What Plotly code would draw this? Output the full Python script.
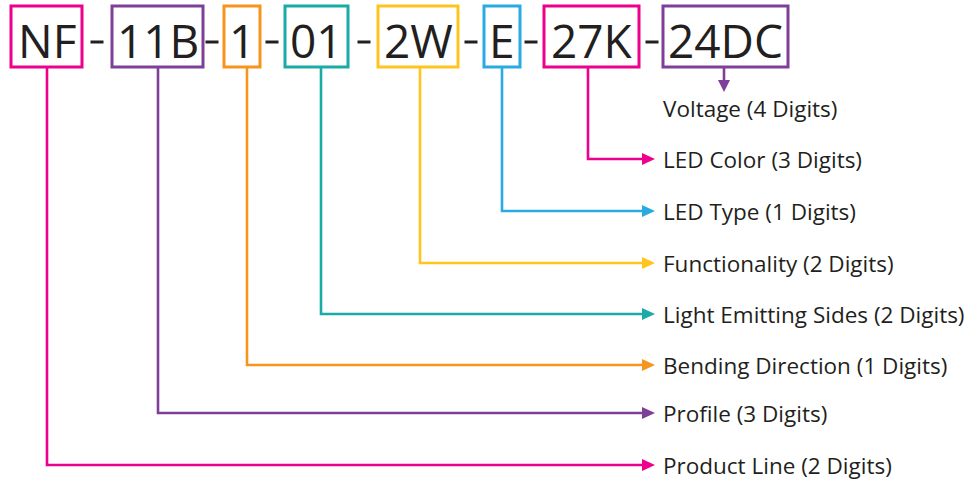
import plotly.graph_objects as go

# ---- data ----
codes = ["NF", "11B", "1", "01", "2W", "E", "27K", "24DC"]
labels = ["Product Line (2 Digits)", "Profile (3 Digits)", "Bending Direction (1 Digits)",
          "Light Emitting Sides (2 Digits)", "Functionality (2 Digits)", "LED Type (1 Digits)",
          "LED Color (3 Digits)", "Voltage (4 Digits)"]
colors = ["#EC008C", "#7F3F98", "#F7941D", "#1AABA7", "#FFC51E", "#29ABE2", "#EC008C", "#7F3F98"]

# ---- layout geometry (pixels) ----
W, H = 973, 482
box_left = [11, 112, 224, 285, 378, 484, 544, 663]
box_right = [82, 203, 260, 348, 458, 520, 639, 788]
box_top, box_bot = 6, 67
text_y = 40
dash_x = [97, 212, 272, 364, 471, 531, 652]
leader_x = [47, 158, 247, 321, 420, 502, 588]
leader_y = [465, 413, 365, 314, 263, 211, 159]
arrow_tip = 655
label_x = 661
volt_arrow_x, volt_arrow_end, volt_label_y = 724, 92, 108

ink = "#231F20"
fig = go.Figure()
fig.add_trace(go.Scatter(x=[0, W], y=[0, H], mode="markers", marker=dict(opacity=0), hoverinfo="skip", showlegend=False))

shapes, annotations = [], []
for i, code in enumerate(codes):
    c = colors[i]
    shapes.append(dict(type="rect", x0=box_left[i], x1=box_right[i], y0=box_top, y1=box_bot,
                       line=dict(color=c, width=3), fillcolor="rgba(0,0,0,0)"))
    annotations.append(dict(x=(box_left[i] + box_right[i]) / 2, y=text_y, text=code, showarrow=False,
                            xanchor="center", yanchor="middle",
                            font=dict(family="Open Sans", size=46, color=ink)))
for dx in dash_x:
    shapes.append(dict(type="line", x0=dx - 6.5, x1=dx + 6.5, y0=42, y1=42, line=dict(color=ink, width=3)))

for i in range(7):
    c = colors[i]
    x0, y = leader_x[i], leader_y[i]
    shapes.append(dict(type="path", path=f"M {x0} {box_bot + 1} L {x0} {y} L {arrow_tip - 10} {y}",
                       line=dict(color=c, width=2.6)))
    shapes.append(dict(type="path", path=f"M {arrow_tip} {y} L {arrow_tip - 13} {y - 6} L {arrow_tip - 13} {y + 6} Z",
                       line=dict(color=c, width=0), fillcolor=c))
    annotations.append(dict(x=label_x, y=y, text=labels[i], showarrow=False, xanchor="left", yanchor="middle",
                            font=dict(family="Open Sans", size=22.5, color=ink)))

# voltage
vc = colors[7]
shapes.append(dict(type="line", x0=volt_arrow_x, x1=volt_arrow_x, y0=box_bot + 1, y1=volt_arrow_end - 8,
                   line=dict(color=vc, width=2.6)))
shapes.append(dict(type="path",
                   path=f"M {volt_arrow_x} {volt_arrow_end} L {volt_arrow_x - 6} {volt_arrow_end - 12} L {volt_arrow_x + 6} {volt_arrow_end - 12} Z",
                   line=dict(color=vc, width=0), fillcolor=vc))
annotations.append(dict(x=label_x, y=volt_label_y, text=labels[7], showarrow=False, xanchor="left", yanchor="middle",
                        font=dict(family="Open Sans", size=22.5, color=ink)))

fig.update_layout(width=W, height=H, margin=dict(l=0, r=0, t=0, b=0),
                  paper_bgcolor="white", plot_bgcolor="white",
                  xaxis=dict(range=[0, W], visible=False, fixedrange=True),
                  yaxis=dict(range=[H, 0], visible=False, fixedrange=True),
                  shapes=shapes, annotations=annotations, showlegend=False)
fig.write_html("out.html", config={"displayModeBar": False, "staticPlot": True},
               post_script="document.body.style.margin='0';document.body.style.overflow='hidden';")
